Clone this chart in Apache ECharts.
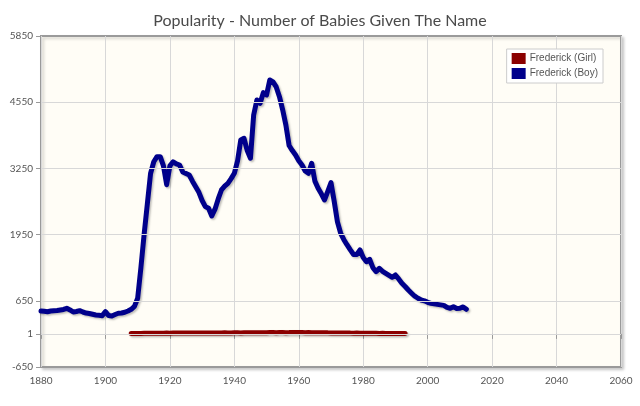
<!DOCTYPE html>
<html>
<head>
<meta charset="utf-8">
<script src="https://cdn.jsdelivr.net/npm/echarts@6/dist/echarts.min.js"></script>
<style>
html,body{margin:0;padding:0;background:#fff;}
#chart{width:640px;height:406px;}
</style>
</head>
<body>
<div id="chart"></div>
<script>
var boyStartYear = 1880;
var boyValues = [
  450, 445, 436, 450, 456, 460, 470, 480, 503, 470,
  430, 440, 456, 430, 410, 400, 385, 371, 365, 358,
  436, 360, 352, 380, 405, 410, 424, 450, 483, 540,
  700, 1300, 1950, 2550, 3150, 3380, 3480, 3480, 3300, 2930,
  3300, 3380, 3340, 3317, 3180, 3150, 3120, 3000, 2890, 2780,
  2620, 2500, 2466, 2315, 2450, 2650, 2826, 2900, 2957, 3050,
  3154, 3400, 3808, 3841, 3600, 3449, 4300, 4593, 4529, 4737,
  4692, 4986, 4950, 4850, 4658, 4400, 4100, 3700, 3600, 3513,
  3400, 3317, 3200, 3154, 3350, 3000, 2860, 2750, 2630, 2800,
  2970, 2600, 2200, 1976, 1850, 1746, 1650, 1560, 1560, 1648,
  1500, 1418, 1465, 1300, 1222, 1288, 1230, 1190, 1150, 1111,
  1157, 1080, 994, 930, 862, 800, 740, 700, 666, 650,
  620, 600, 590, 580, 570, 560, 520, 503, 535, 500,
  503, 530, 483
];
var girlStartYear = 1908;
var girlValues = [
  6, 8, 9, 10, 12, 11, 13, 12, 14, 15,
  14, 16, 15, 17, 16, 18, 17, 16, 18, 19,
  18, 17, 19, 18, 20, 19, 18, 20, 19, 21,
  20, 19, 21, 22, 20, 22, 21, 23, 22, 24,
  23, 25, 24, 26, 27, 25, 26, 27, 25, 26,
  28, 27, 26, 27, 25, 26, 24, 25, 23, 22,
  23, 21, 20, 19, 20, 18, 17, 18, 16, 15,
  16, 14, 13, 14, 12, 11, 12, 10, 11, 9,
  10, 9, 8, 9, 8, 7
];
var yTickLabels = [-650, 1, 650, 1950, 3250, 4550, 5850];
var yGridLines = [1, 650, 1950, 3250, 4550];
var xMin = 1880, xMax = 2060, xStep = 20;
var yMin = -650, yMax = 5850, yStep = 650;

function pairs(start, vals) {
  return vals.map(function (v, i) { return [start + i, v]; });
}
function plain(v) { return String(v); }

var chart = echarts.init(document.getElementById('chart'));
var labelFont = 'Lato, "Liberation Sans", sans-serif';
chart.setOption({
  animation: false,
  backgroundColor: '#ffffff',
  title: {
    text: 'Popularity - Number of Babies Given The Name',
    left: 'center',
    top: 8,
    textStyle: { fontFamily: labelFont, fontSize: 16, fontWeight: 'normal', color: '#4a4a4a' }
  },
  legend: {
    orient: 'vertical',
    right: 37,
    top: 49,
    padding: [4, 5, 4, 5],
    itemGap: 4,
    itemWidth: 14,
    itemHeight: 11,
    backgroundColor: '#ffffff',
    borderColor: '#cccccc',
    borderWidth: 1,
    icon: 'rect',
    textStyle: { fontFamily: '"Liberation Sans", Arial, sans-serif', fontSize: 10, color: '#555', padding: [0, 0, 0, -1] },
    data: ['Frederick (Girl)', 'Frederick (Boy)']
  },
  grid: {
    left: 41, right: 19, top: 36, bottom: 39,
    show: true,
    backgroundColor: '#fffdf6',
    borderColor: '#9a9a9a',
    borderWidth: 2,
    shadowColor: 'rgba(0,0,0,0.18)',
    shadowBlur: 3,
    shadowOffsetX: 2,
    shadowOffsetY: 2
  },
  xAxis: {
    type: 'value',
    min: xMin, max: xMax, interval: xStep,
    axisLine: { show: false },
    axisTick: { show: true, length: 5, lineStyle: { color: '#999' } },
    axisLabel: { fontFamily: labelFont, fontSize: 10, color: '#555', margin: 9, formatter: plain },
    splitLine: { show: true, lineStyle: { color: '#d8d8d8', width: 1 } }
  },
  yAxis: {
    type: 'value',
    min: yMin, max: yMax, interval: yStep,
    axisLine: { show: false },
    axisTick: { show: true, length: 5, lineStyle: { color: '#999' }, customValues: yTickLabels },
    axisLabel: { fontFamily: labelFont, fontSize: 10, color: '#555', margin: 8, customValues: yTickLabels, formatter: plain },
    splitLine: { show: false }
  },
  series: [
    {
      name: 'grid-lines',
      type: 'line',
      data: [],
      z: 1,
      silent: true,
      markLine: {
        silent: true,
        symbol: 'none',
        label: { show: false },
        lineStyle: { color: '#d8d8d8', width: 1, type: 'solid' },
        data: yGridLines.map(function (v) { return { yAxis: v }; })
      }
    },
    {
      name: 'Frederick (Girl)',
      type: 'line',
      z: 3,
      data: pairs(girlStartYear, girlValues),
      showSymbol: false,
      color: '#8b0000',
      lineStyle: { width: 5, color: '#8b0000', cap: 'round', shadowColor: 'rgba(0,0,0,0.25)', shadowBlur: 2, shadowOffsetX: 1.5, shadowOffsetY: 1.5 }
    },
    {
      name: 'Frederick (Boy)',
      type: 'line',
      z: 4,
      data: pairs(boyStartYear, boyValues),
      showSymbol: false,
      color: '#00008b',
      lineStyle: { width: 5, color: '#00008b', cap: 'round', join: 'round', shadowColor: 'rgba(0,0,0,0.25)', shadowBlur: 2, shadowOffsetX: 1.5, shadowOffsetY: 1.5 }
    }
  ]
});
</script>
</body>
</html>
